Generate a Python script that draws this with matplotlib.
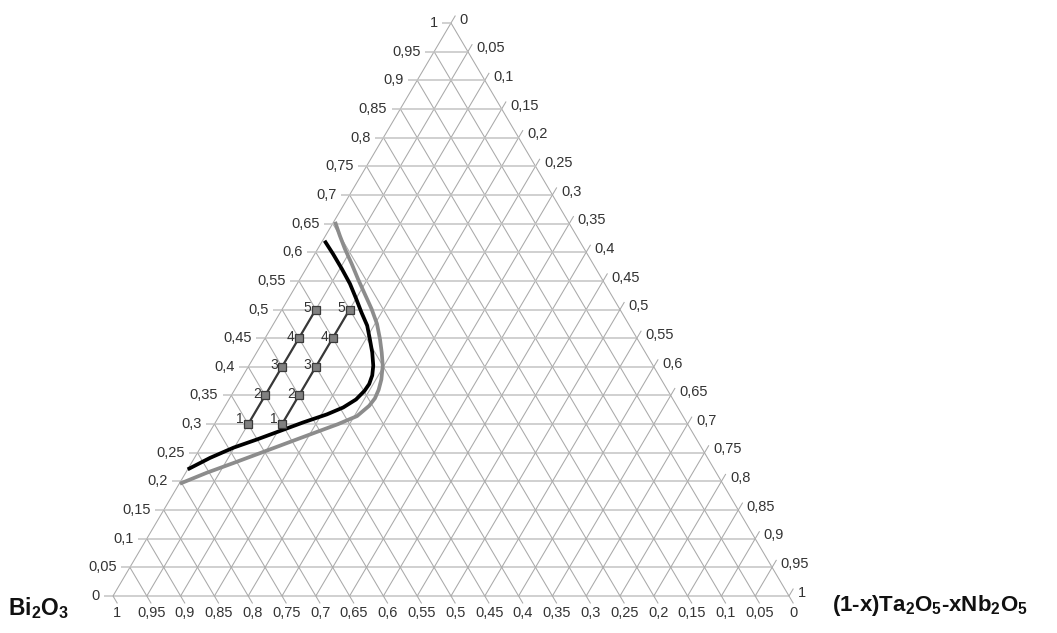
import numpy as np
import matplotlib
matplotlib.use("Agg")
import matplotlib.pyplot as plt

plt.rcParams['font.family'] = ['Liberation Sans', 'DejaVu Sans']
# bold sans for the vertex names (subscripts go through mathtext)
plt.rcParams['mathtext.fontset'] = 'custom'
plt.rcParams['mathtext.rm'] = 'Liberation Sans:bold'
plt.rcParams['mathtext.it'] = 'Liberation Sans:bold'
plt.rcParams['mathtext.bf'] = 'Liberation Sans:bold'
plt.rcParams['mathtext.default'] = 'rm'

# ternary coords: t = top fraction (left axis), r = (1-x)Ta2O5-xNb2O5 fraction (right axis),
# b = Bi2O3 fraction (bottom axis) = 1 - t - r
steps = [k / 20 for k in range(21)]

def fmt(v):
    s = f"{v:.2f}".rstrip("0").rstrip(".")
    return s.replace(".", ",")

# compositions 1..5 on two sections
comp_t = [0.30, 0.35, 0.40, 0.45, 0.50]
comp_r_a = [0.05, 0.05, 0.05, 0.05, 0.05]
comp_r_b = [0.10, 0.10, 0.10, 0.10, 0.10]
comp_labels = ["1", "2", "3", "4", "5"]

# boundary curves (t, r)
black_t = [0.620, 0.597, 0.571, 0.545, 0.518, 0.495, 0.472, 0.448, 0.425, 0.402,
           0.385, 0.370, 0.358, 0.343, 0.329, 0.317, 0.303, 0.288, 0.273, 0.259, 0.241, 0.221]
black_r = [0.003, 0.027, 0.053, 0.078, 0.101, 0.120, 0.140, 0.156, 0.171, 0.184,
           0.191, 0.194, 0.193, 0.188, 0.176, 0.158, 0.130, 0.103, 0.076, 0.049, 0.023, 0.000]
gray_t = [0.653, 0.629, 0.606, 0.580, 0.553, 0.527, 0.501, 0.475, 0.448, 0.425, 0.402,
          0.378, 0.360, 0.345, 0.332, 0.314, 0.300, 0.285, 0.267, 0.250, 0.232, 0.215, 0.196]
gray_r = [0.002, 0.021, 0.040, 0.063, 0.086, 0.109, 0.132, 0.153, 0.171, 0.185, 0.198,
          0.208, 0.213, 0.215, 0.213, 0.204, 0.183, 0.156, 0.124, 0.094, 0.062, 0.031, 0.001]

H = np.sqrt(3) / 2

def to_xy(t, r):
    t = np.asarray(t, dtype=float)
    r = np.asarray(r, dtype=float)
    return r + t / 2, t * H

fig = plt.figure(figsize=(10.57, 6.33), dpi=100)
W_PX, H_PX = 1057, 633
ax = fig.add_axes([113 / W_PX, (H_PX - 596) / H_PX, 676 / W_PX, 573 / H_PX])
ax.set_xlim(0, 1)
ax.set_ylim(0, H)
ax.axis('off')

grid_h = dict(color='#c4c4c4', lw=1.1, solid_capstyle='butt', clip_on=False, zorder=1)
grid_d = dict(color='#a9a9a9', lw=0.75, solid_capstyle='butt', clip_on=False, zorder=1)
tick_col = '#333333'
tfs = 10.5
ext = 0.013

for v in steps:
    # constant t (horizontal), tick to the left
    x, y = to_xy([v, v], [-ext, 1 - v])
    ax.plot(x, y, **grid_h)
    tx, ty = to_xy(v, -ext)
    ax.annotate(fmt(v), (tx, ty), xytext=(-3, 0), textcoords='offset points',
                ha='right', va='center', fontsize=tfs, color=tick_col, annotation_clip=False)
    # constant r (parallel to left edge), tick past the right edge
    x, y = to_xy([0, 1 - v + ext], [v, v])
    ax.plot(x, y, **grid_d)
    tx, ty = to_xy(1 - v + ext, v)
    ax.annotate(fmt(v), (tx, ty), xytext=(3, -3), textcoords='offset points',
                ha='left', va='center', fontsize=tfs, color=tick_col, annotation_clip=False)
    # constant b (parallel to right edge), tick below the bottom edge
    x, y = to_xy([-ext, 1 - v], [1 - v + ext, 0])
    ax.plot(x, y, **grid_d)
    tx, ty = to_xy(-ext, 1 - v + ext)
    ax.annotate(fmt(v), (tx, ty), xytext=(0, -2), textcoords='offset points',
                ha='center', va='top', fontsize=tfs, color=tick_col, annotation_clip=False)

# boundary curves
bx, by = to_xy(gray_t, gray_r)
ax.plot(bx, by, color='#8c8c8c', lw=2.7, solid_capstyle='butt', solid_joinstyle='round',
        zorder=3, clip_on=False)
bx, by = to_xy(black_t, black_r)
ax.plot(bx, by, color='#000000', lw=2.7, solid_capstyle='butt', solid_joinstyle='round',
        zorder=4, clip_on=False)

# sections with compositions
for rr in (comp_r_a, comp_r_b):
    px, py = to_xy(comp_t, rr)
    ax.plot(px, py, color='#383838', lw=1.6, marker='s', ms=5.5, mfc='#808080',
            mec='#3a3a3a', mew=0.9, zorder=5)
    for i, lab in enumerate(comp_labels):
        dy = 4 if i == 0 else 1
        ax.annotate(lab, (px[i], py[i]), xytext=(-3, dy), textcoords='offset points',
                    ha='right', va='center', fontsize=10, color='#333333')

# vertex names
fig.text(8 / W_PX, 1 - 608 / H_PX, r'Bi$_2$O$_3$', ha='left', va='center',
         fontsize=16.5, fontweight='bold', color='#111111')
fig.text(832 / W_PX, 1 - 606 / H_PX, r'(1-x)Ta$_2$O$_5$-xNb$_2$O$_5$', ha='left', va='center',
         fontsize=16, fontweight='bold', color='#111111')

fig.savefig('out.png', dpi=100, facecolor='white')
